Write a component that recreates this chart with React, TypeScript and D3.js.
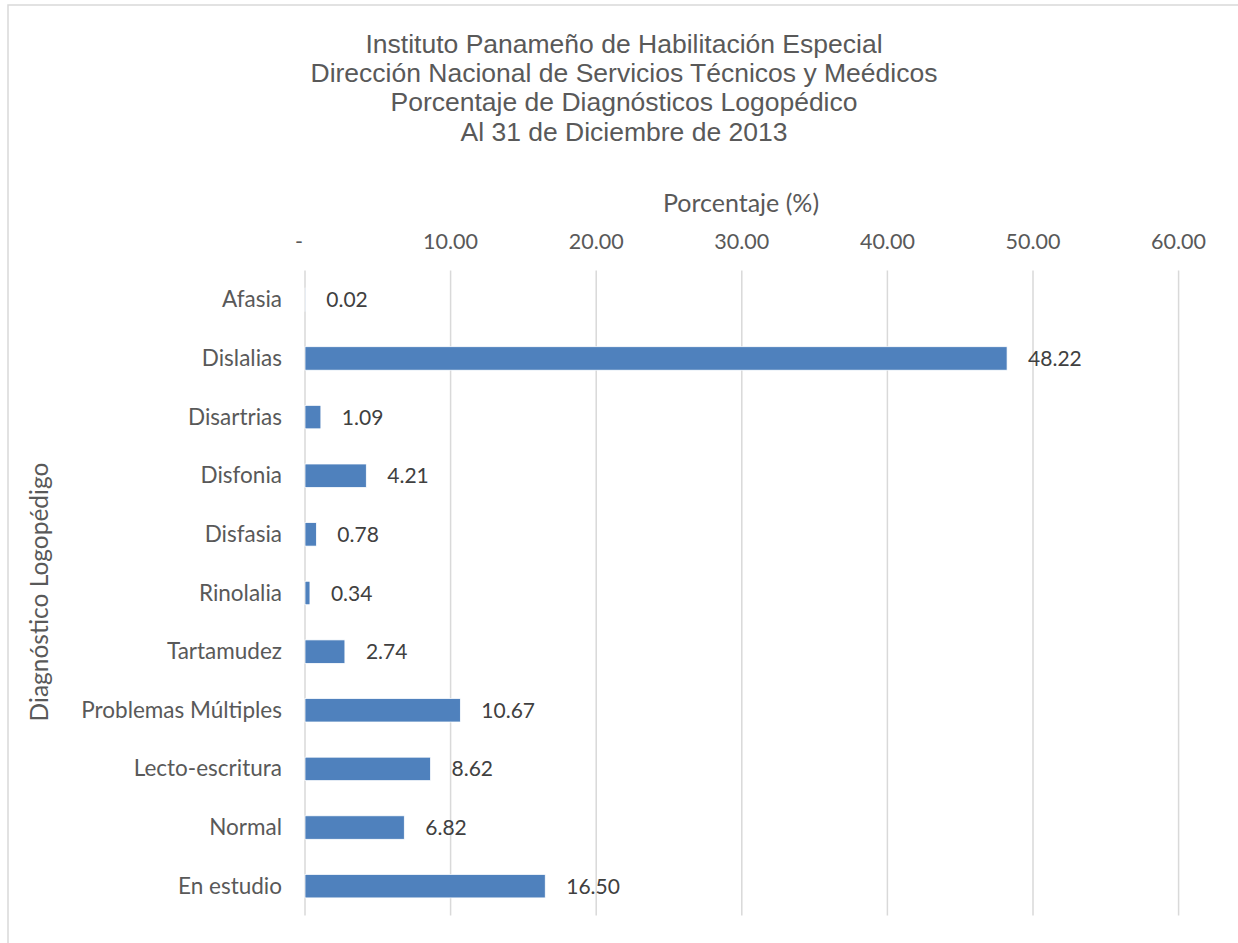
import React from "react";
import * as d3 from "d3";

const titleLines = [
  "Instituto Panameño de Habilitación Especial",
  "Dirección Nacional de Servicios Técnicos y Meédicos",
  "Porcentaje de Diagnósticos Logopédico",
  "Al 31 de Diciembre de 2013",
];
const categories = [
  "Afasia",
  "Dislalias",
  "Disartrias",
  "Disfonia",
  "Disfasia",
  "Rinolalia",
  "Tartamudez",
  "Problemas Múltiples",
  "Lecto-escritura",
  "Normal",
  "En estudio",
];
const values = [0.02, 48.22, 1.09, 4.21, 0.78, 0.34, 2.74, 10.67, 8.62, 6.82, 16.5];
const xTicks = [0, 10, 20, 30, 40, 50, 60];
const xAxisTitle = "Porcentaje (%)";
const yAxisTitle = "Diagnóstico Logopédigo";

const W = 1238;
const H = 943;
const left = 305;
const right = 1178.6;
const top = 270.5;
const bottom = 915.5;
const labelFont = "Lato, sans-serif";
const textColor = "#595959";

export default function App() {
  const x = d3.scaleLinear().domain([0, 60]).range([left, right]);
  const y = d3.scaleBand<string>().domain(categories).range([top, bottom]).paddingInner(0.6).paddingOuter(0.3);
  const fmt = (v: number) => (v === 0 ? "-" : d3.format(".2f")(v));

  return (
    <svg width={W} height={H} style={{ position: "absolute", left: 0, top: 0, background: "#fff" }}>
      <rect x={8} y={5} width={W + 20} height={H + 20} fill="#fff" stroke="#d9d9d9" strokeWidth={1.5} />
      <g fontFamily="'Liberation Sans', Arial, sans-serif" fontSize={26.5} fill={textColor} textAnchor="middle">
        {titleLines.map((t, i) => (
          <text key={i} x={624} y={52.5 + i * 29.4}>
            {t}
          </text>
        ))}
      </g>
      <text x={741} y={212} textAnchor="middle" fontFamily={labelFont} fontSize={25} fill={textColor}>
        {xAxisTitle}
      </text>
      {xTicks.map((t) => (
        <g key={t}>
          <line x1={x(t)} x2={x(t)} y1={top} y2={bottom} stroke="#d9d9d9" strokeWidth={1.5} />
          <text
            x={x(t) - (t === 0 ? 6 : 0)}
            y={249}
            textAnchor="middle"
            fontFamily={labelFont}
            fontSize={21.5}
            fill={textColor}
          >
            {fmt(t)}
          </text>
        </g>
      ))}
      {categories.map((c, i) => {
        const yc = (y(c) as number) + y.bandwidth() / 2;
        return (
          <g key={c}>
            <rect
              x={x(0)}
              y={y(c)}
              width={x(values[i]) - x(0)}
              height={y.bandwidth()}
              fill="#4f81bd"
              stroke="#ffffff"
              strokeWidth={0.75}
            />
            <text x={282} y={yc + 7.5} textAnchor="end" fontFamily={labelFont} fontSize={22.5} fill={textColor}>
              {c}
            </text>
            <text x={x(values[i]) + 21} y={yc + 7.5} fontFamily={labelFont} fontSize={21} fill="#404040">
              {d3.format(".2f")(values[i])}
            </text>
          </g>
        );
      })}
      <text
        transform={`translate(48,${(top + bottom) / 2 - 1}) rotate(-90)`}
        textAnchor="middle"
        fontFamily={labelFont}
        fontSize={24.5}
        fill={textColor}
      >
        {yAxisTitle}
      </text>
    </svg>
  );
}
